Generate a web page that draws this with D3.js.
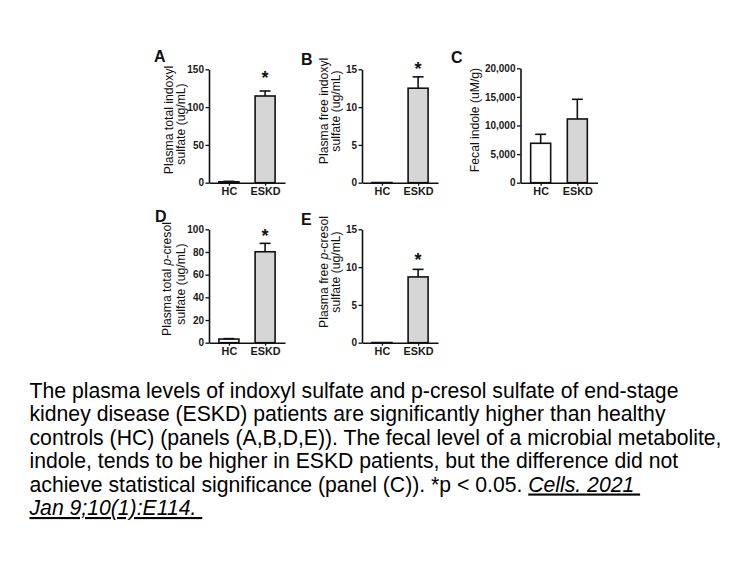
<!DOCTYPE html>
<html>
<head>
<meta charset="utf-8">
<script src="https://cdn.jsdelivr.net/npm/d3@7"></script>
<style>
  html, body { margin: 0; padding: 0; background: #fff; }
  svg { display: block; }
</style>
</head>
<body>
<svg id="chart" width="756" height="567"></svg>
<script>
// ---- Data ----
const categories = ["HC", "ESKD"];
const panelLetters = ["A", "B", "C", "D", "E"];
const panelA_values = [1.2, 114.7];
const panelA_errors = [0.6, 6.6];
const panelA_ticks = [0, 50, 100, 150];
const panelB_values = [0.02, 12.5];
const panelB_errors = [0.02, 1.5];
const panelB_ticks = [0, 5, 10, 15];
const panelC_values = [6890, 11140];
const panelC_errors = [1570, 3440];
const panelC_ticks = [0, 5000, 10000, 15000, 20000];
const panelD_values = [3.2, 80.2];
const panelD_errors = [0.4, 7.4];
const panelD_ticks = [0, 20, 40, 60, 80, 100];
const panelE_values = [0.02, 8.7];
const panelE_errors = [0.02, 1.0];
const panelE_ticks = [0, 5, 10, 15];
const significance = [143.8, 15.6, null, 97.9, 11.6]; // star heights (data units) over ESKD
const titlesA = ["Plasma total indoxyl", "sulfate (ug/mL)"];
const titlesB = ["Plasma free indoxyl", "sulfate (ug/mL)"];
const titlesC = ["Fecal indole (uM/g)"];
const titlesD = [["Plasma total ", "p", "-cresol"], ["sulfate (ug/mL)"]];
const titlesE = [["Plasma free ", "p", "-cresol"], ["sulfate (ug/mL)"]];
const captionLines = [
  "The plasma levels of indoxyl sulfate and p-cresol sulfate of end-stage",
  "kidney disease (ESKD) patients are significantly higher than healthy",
  "controls (HC) (panels (A,B,D,E)). The fecal level of a microbial metabolite,",
  "indole, tends to be higher in ESKD patients, but the difference did not",
  "achieve statistical significance (panel (C)). *p < 0.05. "
];
const citation1 = "Cells. 2021 ";
const citation2 = "Jan 9;10(1):E114. ";

// ---- Layout ----
const svg = d3.select("#chart");
const fills = ["#ffffff", "#d6d6d6"];

const panels = [
  { letter: panelLetters[0], vals: panelA_values, errs: panelA_errors, ticks: panelA_ticks, max: 150,
    ax: 209, top: 69.3, bot: 182.7, axLen: 76, fmt: d3.format("d"),
    titles: titlesA.map(t => [t]), titleX: [172.5, 184.5], titleY: [120, 124], lx: 154, ly: 62, sig: significance[0] },
  { letter: panelLetters[1], vals: panelB_values, errs: panelB_errors, ticks: panelB_ticks, max: 15,
    ax: 362, top: 69.3, bot: 182.7, axLen: 76, fmt: d3.format("d"),
    titles: titlesB.map(t => [t]), titleX: [328, 340], titleY: [111, 111], lx: 301, ly: 64.5, sig: significance[1] },
  { letter: panelLetters[2], vals: panelC_values, errs: panelC_errors, ticks: panelC_ticks, max: 20000,
    ax: 520.5, top: 68.3, bot: 182.7, axLen: 77, fmt: d3.format(","),
    titles: titlesC.map(t => [t]), titleX: [478.5], titleY: [120], lx: 451, ly: 63, sig: significance[2] },
  { letter: panelLetters[3], vals: panelD_values, errs: panelD_errors, ticks: panelD_ticks, max: 100,
    ax: 209, top: 229.3, bot: 342.7, axLen: 76, fmt: d3.format("d"),
    titles: titlesD, titleX: [171, 184.5], titleY: [279, 284], lx: 155, ly: 221.5, sig: significance[3] },
  { letter: panelLetters[4], vals: panelE_values, errs: panelE_errors, ticks: panelE_ticks, max: 15,
    ax: 362, top: 229.3, bot: 342.7, axLen: 76, fmt: d3.format("d"),
    titles: titlesE, titleX: [328, 340], titleY: [272, 272], lx: 301, ly: 224.5, sig: significance[4] }
];

panels.forEach(p => {
  const g = svg.append("g");
  const y = d3.scaleLinear().domain([0, p.max]).range([p.bot, p.top]);
  const x = d3.scalePoint().domain(categories).range([p.ax, p.ax + p.axLen]).padding(0.55);
  const bw = 20;

  // bars
  g.selectAll("rect.bar").data(categories).enter().append("rect")
    .attr("x", (c) => x(c) - bw / 2)
    .attr("y", (c, i) => y(p.vals[i]))
    .attr("width", bw)
    .attr("height", (c, i) => y(0) - y(p.vals[i]))
    .attr("fill", (c, i) => fills[i])
    .attr("stroke", "#111")
    .attr("stroke-width", 1.6);

  // error bars (upper only)
  categories.forEach((c, i) => {
    const v = p.vals[i], e = p.errs[i];
    if (v < p.max * 0.005) return;
    g.append("line").attr("x1", x(c)).attr("x2", x(c))
      .attr("y1", y(v)).attr("y2", y(v + e)).attr("stroke", "#111").attr("stroke-width", 1.6);
    g.append("line").attr("x1", x(c) - 5.5).attr("x2", x(c) + 5.5)
      .attr("y1", y(v + e)).attr("y2", y(v + e)).attr("stroke", "#111").attr("stroke-width", 1.6);
  });

  // y axis
  const ya = g.append("g").attr("transform", `translate(${p.ax},0)`)
    .call(d3.axisLeft(y).tickValues(p.ticks).tickFormat(p.fmt).tickSize(3.5).tickSizeOuter(0).tickPadding(1.5));
  // x axis
  const xa = g.append("g").attr("transform", `translate(0,${p.bot})`)
    .call(d3.axisBottom(x).tickSize(3).tickSizeOuter(0).tickPadding(1.5));
  [ya, xa].forEach(a => {
    a.select(".domain").attr("stroke", "#111").attr("stroke-width", 1.6);
    a.selectAll(".tick line").attr("stroke", "#111").attr("stroke-width", 1.3);
    a.selectAll("text").attr("fill", "#1a1a1a").attr("font-family", "Liberation Sans, Arial, sans-serif")
      .attr("font-weight", "bold");
  });
  ya.selectAll("text").attr("font-size", 10);
  xa.selectAll("text").attr("font-size", 10.8);

  // axis titles
  p.titles.forEach((parts, k) => {
    const t = g.append("text")
      .attr("transform", `translate(${p.titleX[k]},${p.titleY[k]}) rotate(-90)`)
      .attr("text-anchor", "middle")
      .attr("font-family", "Liberation Sans, Arial, sans-serif")
      .attr("font-size", 12.2)
      .attr("fill", "#111");
    parts.forEach((s, j) => {
      t.append("tspan").text(s).attr("font-style", (parts.length === 3 && j === 1) ? "italic" : "normal");
    });
  });

  // panel letter
  g.append("text").attr("x", p.lx).attr("y", p.ly).text(p.letter)
    .attr("font-family", "Liberation Sans, Arial, sans-serif").attr("font-weight", "bold")
    .attr("font-size", 16).attr("fill", "#111");

  // significance star
  if (p.sig !== null) {
    g.append("text").attr("x", x("ESKD")).attr("y", y(p.sig) + 10.5).text("*")
      .attr("text-anchor", "middle")
      .attr("font-family", "Liberation Sans, Arial, sans-serif").attr("font-weight", "bold")
      .attr("font-size", 18).attr("fill", "#111");
  }
});

// ---- Caption ----
const cap = svg.append("g")
  .attr("font-family", "Liberation Sans, Arial, sans-serif")
  .attr("font-size", 21.2).attr("fill", "#000");
const baselines = [397.5, 421, 444.5, 468, 491.5, 515];
captionLines.forEach((line, i) => {
  const t = cap.append("text").attr("x", 29.5).attr("y", baselines[i]).style("white-space", "pre");
  t.append("tspan").text(line);
  if (i === captionLines.length - 1) {
    t.append("tspan").text(citation1).attr("font-style", "italic").attr("text-decoration", "underline");
  }
});
cap.append("text").attr("x", 29.5).attr("y", baselines[5]).style("white-space", "pre")
  .append("tspan").text(citation2).attr("font-style", "italic").attr("text-decoration", "underline");
</script>
</body>
</html>
